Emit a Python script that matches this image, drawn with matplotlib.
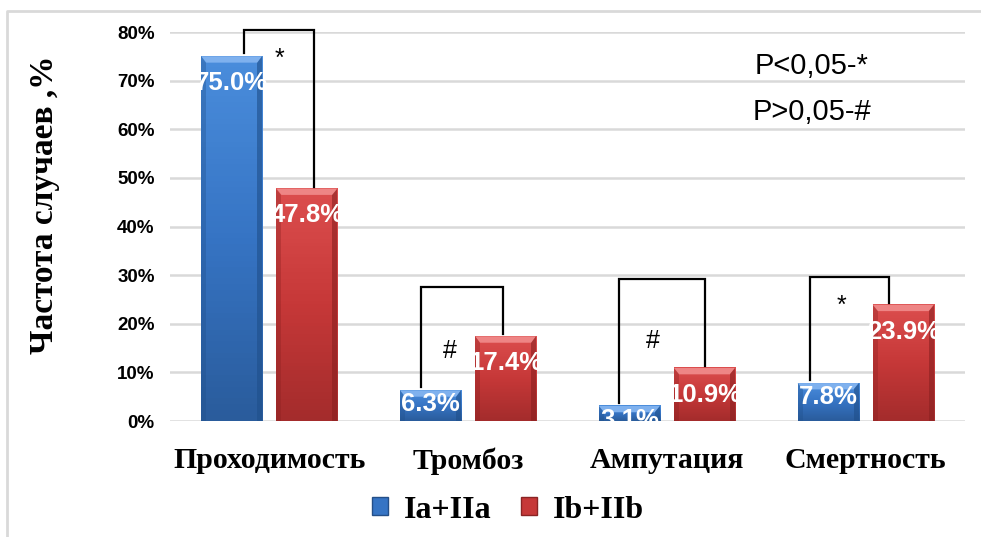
import numpy as np
import matplotlib.pyplot as plt
from matplotlib.patches import Patch, Polygon
from matplotlib.lines import Line2D
from matplotlib.transforms import Bbox, TransformedBbox
from matplotlib.colors import LinearSegmentedColormap

# outcome frequencies, %
categories = ["Проходимость", "Тромбоз", "Ампутация", "Смертность"]
group_a = [75.0, 6.3, 3.1, 7.8]      # Ia+IIa
group_b = [47.8, 17.4, 10.9, 23.9]   # Ib+IIb
series_names = ["Ia+IIa", "Ib+IIb"]
signif = ["*", "#", "#", "*"]
yticks = [0, 10, 20, 30, 40, 50, 60, 70, 80]

serif = ["Liberation Serif", "DejaVu Serif"]
sans = ["Liberation Sans", "DejaVu Sans"]

blue_cmap = LinearSegmentedColormap.from_list("b", ["#4a8ddc", "#3674c4", "#2a5c9c"])
red_cmap = LinearSegmentedColormap.from_list("r", ["#dc4e4e", "#c63838", "#a42c2c"])

fig = plt.figure(figsize=(9.81, 5.37), dpi=100)
ax = fig.add_axes([0.1733, 0.216, 0.8104, 0.7244])

x = np.arange(len(categories))
w = 0.307
off = 0.189


def bevel_bar(xc, h, cmap, light, dark):
    # gradient body with a lit top edge and shaded sides
    x0, x1 = xc - w / 2, xc + w / 2
    grad = np.linspace(0, 1, 64).reshape(-1, 1)
    ax.imshow(grad, extent=(x0, x1, 0, h), origin="upper", cmap=cmap,
              aspect="auto", zorder=2)
    bw, bh = 0.025, 1.3
    bh = min(bh, h / 2)
    ax.add_patch(Polygon([(x0, h), (x1, h), (x1 - bw, h - bh), (x0 + bw, h - bh)],
                         closed=True, fc=light, ec="none", zorder=3))
    ax.add_patch(Polygon([(x1, h), (x1, 0), (x1 - bw, 0), (x1 - bw, h - bh)],
                         closed=True, fc=dark, ec="none", alpha=0.6, zorder=3))
    ax.add_patch(Polygon([(x0, h), (x0, 0), (x0 + bw, 0), (x0 + bw, h - bh)],
                         closed=True, fc=dark, ec="none", alpha=0.35, zorder=3))


for i in range(len(categories)):
    bevel_bar(x[i] - off, group_a[i], blue_cmap, "#7fb1ee", "#1f4f8a")
    bevel_bar(x[i] + off, group_b[i], red_cmap, "#ee8585", "#8a2020")

# value labels inside bars; red ones are cut a little past the bar edge
for i in range(len(categories)):
    for k, (xc, v) in enumerate(((x[i] - off, group_a[i]), (x[i] + off, group_b[i]))):
        ly = v - 5.5 if v > 10 else v - 2.9
        t = ax.text(xc, ly, f"{v:.1f}%", ha="center", va="center", color="white",
                    fontsize=18.5, fontweight="bold", family=sans, zorder=5,
                    clip_on=True)
        if k == 1:
            box = Bbox([[xc - w / 2 - 0.2, 0], [xc + w / 2 + 0.025, 100]])
            t.set_clip_box(TransformedBbox(box, ax.transData))

# significance brackets
bracket_left = [-0.126, -0.236, -0.24, -0.28]
bracket_right = [0.226, 0.176, 0.19, 0.12]
bracket_top = [80.4, 27.6, 29.2, 29.6]
for i in range(len(categories)):
    xl, xr = x[i] + bracket_left[i], x[i] + bracket_right[i]
    top = bracket_top[i]
    ax.plot([xl, xl, xr, xr], [group_a[i] + 0.6, top, top, group_b[i] + 0.4],
            color="black", lw=1.6, zorder=6, clip_on=False, solid_joinstyle="miter")
    sx = [x[i] + 0.05, x[i] - 0.09, x[i] - 0.07, x[i] - 0.12][i]
    sy = [74.5, 14.5, 16.5, 23.6][i]
    ax.text(sx, sy, signif[i], ha="center", va="center", fontsize=18,
            family=sans, zorder=6)

ax.text(2.73, 73.0, "P<0,05-*", ha="center", va="center", fontsize=21, family=sans)
ax.text(2.73, 63.5, "P>0,05-#", ha="center", va="center", fontsize=21, family=sans)

ax.set_xlim(-0.5, 3.5)
ax.set_ylim(0, 80)
ax.set_yticks(yticks)
ax.set_yticklabels([f"{t}%" for t in yticks], fontsize=13.5, fontweight="bold",
                   family=sans)
ax.set_xticks(x)
ax.set_xticklabels(categories, fontsize=21.5, fontweight="bold", family=serif)
ax.tick_params(axis="y", length=0, pad=11)
ax.tick_params(axis="x", length=0, pad=19)
ax.yaxis.grid(True, color="#d9d9d9", lw=1.8)
ax.set_axisbelow(True)
for s in ax.spines.values():
    s.set_visible(False)

fig.text(45 / 981, 1 - 205 / 537, "Частота случаев ,%", rotation=90, ha="center",
         va="center", fontsize=24, fontweight="bold", family=serif)

handles = [Patch(fc="#3674c4", ec="#244f88"), Patch(fc="#c63838", ec="#8a2424")]
fig.legend(handles, series_names, loc="center", bbox_to_anchor=(508 / 981, 1 - 510 / 537),
           ncol=2, frameon=False, handlelength=0.5, handleheight=0.5,
           columnspacing=0.9, handletextpad=0.5,
           prop={"family": serif, "weight": "bold", "size": 23})

# outer frame
fig.add_artist(Line2D([7 / 981, 7 / 981, 1.0], [0.0, 1 - 11 / 537, 1 - 11 / 537],
                      color="#d9d9d9", lw=2, transform=fig.transFigure))

fig.savefig("out.png", dpi=100)
